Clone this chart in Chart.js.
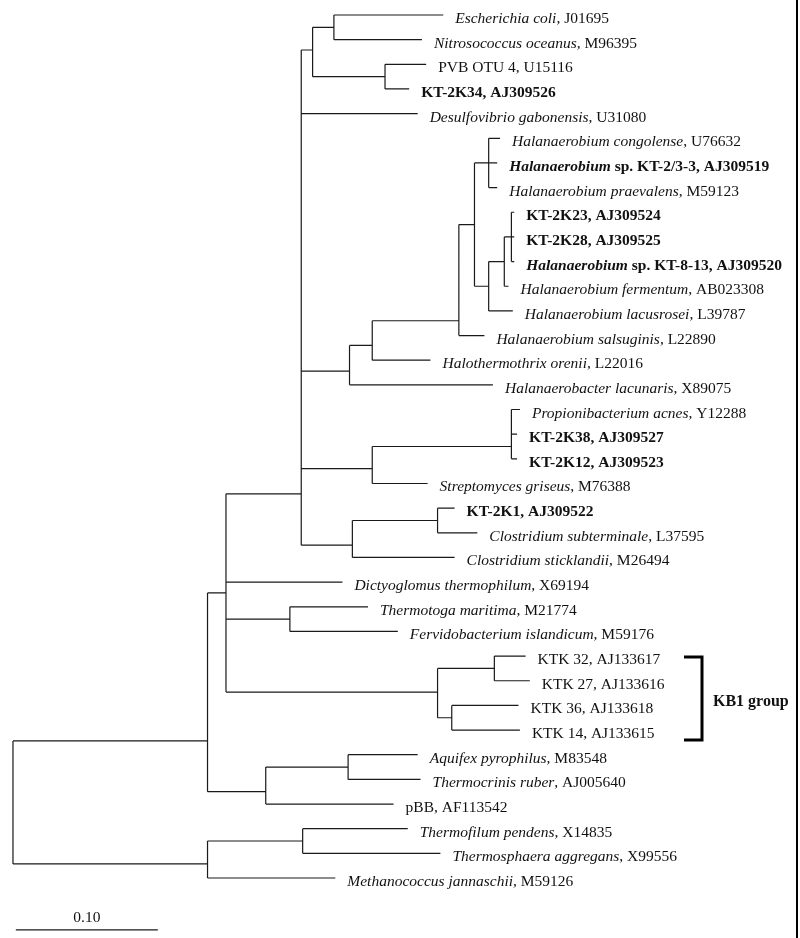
<!DOCTYPE html>
<html>
<head>
<meta charset="utf-8">
<script src="https://cdn.jsdelivr.net/npm/chart.js@4"></script>
<style>
  html, body { margin: 0; padding: 0; background: #fff; }
  #wrap { position: relative; width: 800px; height: 938px; }
</style>
</head>
<body>
<div id="wrap"><canvas id="tree"></canvas></div>
<script>
// leaf labels top to bottom, as runs of [text, style]  (r, i, b, bi)
const leafLabels = [
  [['Escherichia coli', 'i'], [', J01695', 'r']],
  [['Nitrosococcus oceanus', 'i'], [', M96395', 'r']],
  [['PVB OTU 4, U15116', 'r']],
  [['KT-2K34, AJ309526', 'b']],
  [['Desulfovibrio gabonensis', 'i'], [', U31080', 'r']],
  [['Halanaerobium congolense', 'i'], [', U76632', 'r']],
  [['Halanaerobium', 'bi'], [' sp. KT-2/3-3, AJ309519', 'b']],
  [['Halanaerobium praevalens', 'i'], [', M59123', 'r']],
  [['KT-2K23, AJ309524', 'b']],
  [['KT-2K28, AJ309525', 'b']],
  [['Halanaerobium', 'bi'], [' sp. KT-8-13, AJ309520', 'b']],
  [['Halanaerobium fermentum', 'i'], [', AB023308', 'r']],
  [['Halanaerobium lacusrosei', 'i'], [', L39787', 'r']],
  [['Halanaerobium salsuginis', 'i'], [', L22890', 'r']],
  [['Halothermothrix orenii', 'i'], [', L22016', 'r']],
  [['Halanaerobacter lacunaris', 'i'], [', X89075', 'r']],
  [['Propionibacterium acnes', 'i'], [', Y12288', 'r']],
  [['KT-2K38, AJ309527', 'b']],
  [['KT-2K12, AJ309523', 'b']],
  [['Streptomyces griseus', 'i'], [', M76388', 'r']],
  [['KT-2K1, AJ309522', 'b']],
  [['Clostridium subterminale', 'i'], [', L37595', 'r']],
  [['Clostridium sticklandii', 'i'], [', M26494', 'r']],
  [['Dictyoglomus thermophilum', 'i'], [', X69194', 'r']],
  [['Thermotoga maritima', 'i'], [', M21774', 'r']],
  [['Fervidobacterium islandicum', 'i'], [', M59176', 'r']],
  [['KTK 32, AJ133617', 'r']],
  [['KTK 27, AJ133616', 'r']],
  [['KTK 36, AJ133618', 'r']],
  [['KTK 14, AJ133615', 'r']],
  [['Aquifex pyrophilus', 'i'], [', M83548', 'r']],
  [['Thermocrinis ruber', 'i'], [', AJ005640', 'r']],
  [['pBB, AF113542', 'r']],
  [['Thermofilum pendens', 'i'], [', X14835', 'r']],
  [['Thermosphaera aggregans', 'i'], [', X99556', 'r']],
  [['Methanococcus jannaschii', 'i'], [', M59126', 'r']]
]

// distance from root to each tip (substitutions per site)
const tipDepth = [
  0.303, 0.288, 0.291, 0.279, 0.285,
  0.343, 0.341, 0.341, 0.353, 0.353, 0.353, 0.349, 0.352, 0.332, 0.294, 0.338,
  0.357, 0.355, 0.355, 0.292, 0.311, 0.327, 0.311,
  0.232, 0.250, 0.271,
  0.361, 0.364, 0.356, 0.357,
  0.285, 0.287, 0.268,
  0.278, 0.301, 0.227
]

// internal nodes: id, depth from root, row where it joins its parent, children
const nodeIds   = ['root', 'A', 'Arch', 'Tf', 'C', 'Aq', 'B', 'Tm', 'KB1', 'K1', 'K2',
                   'D', 'E', 'F', 'G', 'H', 'H2', 'H3', 'H4', 'Hc', 'Hk3', 'Hk2', 'Hk1',
                   'P', 'Pk', 'Cl', 'Ck']
const nodeDepth = [0, 0.137, 0.137, 0.204, 0.178, 0.236, 0.150, 0.195, 0.299, 0.339, 0.309,
                   0.203, 0.211, 0.226, 0.262, 0.237, 0.253, 0.314, 0.325, 0.335, 0.335, 0.346, 0.351,
                   0.253, 0.351, 0.239, 0.299]
const nodeRow   = [null, 29.44, 34.43, 33.5, 31.5, 30.5, 23.44, 24.5, 27.46, 26.5, 28.5,
                   19.42, 1.42, 0.5, 2.5, 14.44, 13.4, 12.4, 8.5, 6, 11, 10, 9,
                   18.4, 17.5, 21.5, 20.5]
const nodeKids  = [
  ['A', 'Arch'], ['B', 'C'], ['Tf', 35], [33, 34], ['Aq', 32], [30, 31],
  ['D', 23, 'Tm', 'KB1'], [24, 25], ['K1', 'K2'], [26, 27], [28, 29],
  ['E', 4, 'H', 'P', 'Cl'], ['F', 'G'], [0, 1], [2, 3],
  ['H2', 15], ['H3', 14], ['H4', 13], ['Hc', 'Hk3'],
  [5, 6, 7], ['Hk2', 12], ['Hk1', 11], [8, 9, 10],
  ['Pk', 19], [16, 17, 18], ['Ck', 22], [20, 21]
]

const scaleBar = 0.10
const groupLabel = 'KB1 group'
const groupLeaves = [26, 29]

const rowOf = k => typeof k === 'number' ? k : nodeRow[nodeIds.indexOf(k)]
const depthOf = k => typeof k === 'number' ? tipDepth[k] : nodeDepth[nodeIds.indexOf(k)]

const branches = []
nodeIds.forEach((id, i) => {
  const rows = nodeKids[i].map(rowOf)
  branches.push({x: nodeDepth[i], y: Math.min(...rows)}, {x: nodeDepth[i], y: Math.max(...rows)}, {x: null, y: null})
  nodeKids[i].forEach(k => {
    branches.push({x: nodeDepth[i], y: rowOf(k)}, {x: depthOf(k), y: rowOf(k)}, {x: null, y: null})
  })
})

const SERIF = '"Liberation Serif", "Times New Roman", serif'
const fontFor = (style, size) => {
  const it = style.includes('i') ? 'italic ' : ''
  const bd = style.includes('b') ? 'bold ' : ''
  return `${it}${bd}${size}px ${SERIF}`
}

const labelPlugin = {
  id: 'treeLabels',
  afterDatasetsDraw(chart) {
    const {ctx, scales: {x, y}} = chart
    ctx.save()
    ctx.fillStyle = '#111'
    ctx.textBaseline = 'alphabetic'
    leafLabels.forEach((runs, i) => {
      let px = x.getPixelForValue(tipDepth[i]) + 12
      const py = y.getPixelForValue(i) + 8
      runs.forEach(([text, style]) => {
        ctx.font = fontFor(style, 15.5)
        ctx.fillText(text, px, py)
        px += ctx.measureText(text).width
      })
    })

    // scale bar caption
    const barY = y.getPixelForValue(37.1)
    ctx.font = fontFor('r', 15.5)
    ctx.textAlign = 'center'
    ctx.fillText(scaleBar.toFixed(2), (x.getPixelForValue(0.002) + x.getPixelForValue(0.002 + scaleBar)) / 2, barY - 8)

    // KB1 bracket
    const top = y.getPixelForValue(groupLeaves[0]) + 1
    const bot = y.getPixelForValue(groupLeaves[1]) + 10
    ctx.strokeStyle = '#000'
    ctx.lineWidth = 3
    ctx.lineJoin = 'miter'
    ctx.beginPath()
    ctx.moveTo(684, top)
    ctx.lineTo(702, top)
    ctx.lineTo(702, bot)
    ctx.lineTo(684, bot)
    ctx.stroke()
    ctx.textAlign = 'left'
    ctx.font = fontFor('b', 16)
    ctx.fillText(groupLabel, 713, (top + bot) / 2 + 7)

    // frame edge on the right
    ctx.fillStyle = '#000'
    ctx.fillRect(796, 0, 2, chart.height)
    ctx.restore()
  }
}

new Chart(document.getElementById('tree'), {
  type: 'scatter',
  data: {
    datasets: [
      {
        data: branches,
        showLine: true,
        borderColor: '#1a1a1a',
        borderWidth: 1.2,
        pointRadius: 0,
        spanGaps: false
      },
      {
        data: [{x: 0.002, y: 37.1}, {x: 0.002 + scaleBar, y: 37.1}],
        showLine: true,
        borderColor: '#1a1a1a',
        borderWidth: 1.2,
        pointRadius: 0
      }
    ]
  },
  options: {
    responsive: true,
    maintainAspectRatio: false,
    animation: false,
    layout: { padding: 0 },
    plugins: { legend: { display: false }, tooltip: { enabled: false } },
    scales: {
      x: { type: 'linear', display: false, min: -0.00915, max: 0.55425 },
      y: { type: 'linear', display: false, reverse: true, min: -0.6083, max: 37.433 }
    }
  },
  plugins: [labelPlugin]
})
</script>
</body>
</html>
